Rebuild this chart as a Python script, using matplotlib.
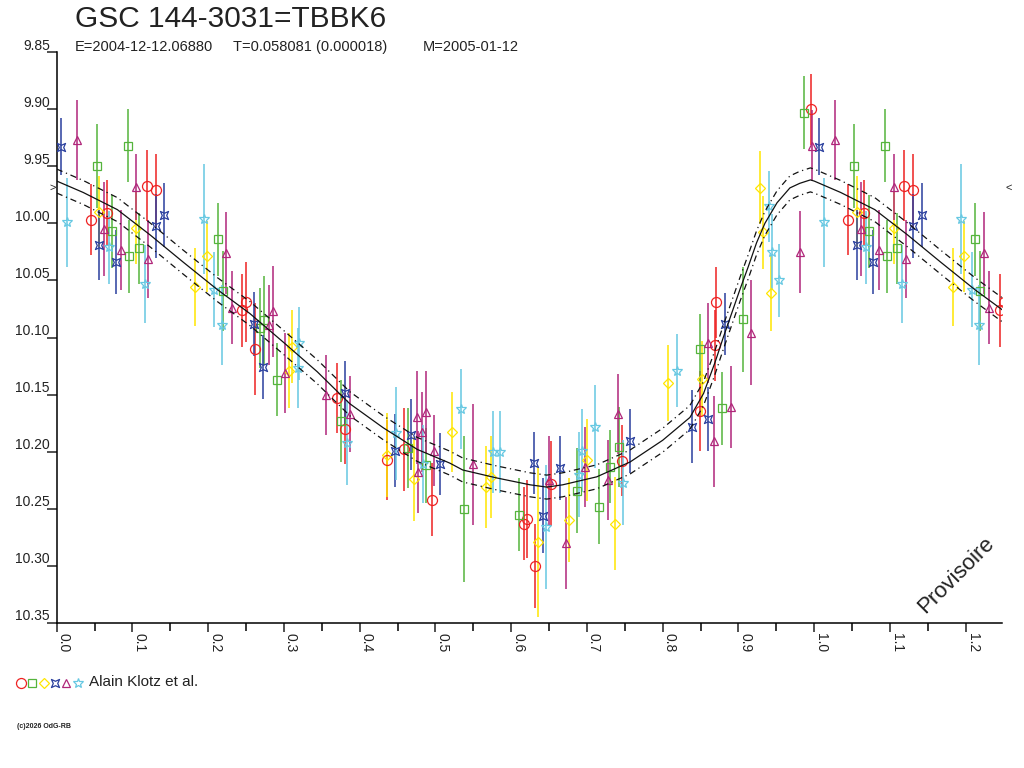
import numpy as np
import matplotlib
matplotlib.use('Agg')
import matplotlib.pyplot as plt
import matplotlib.transforms as mtransforms
from matplotlib.path import Path
from matplotlib.ticker import MultipleLocator, FixedLocator, FormatStrFormatter

plt.rcParams['font.family'] = ['Liberation Sans', 'DejaVu Sans']

title = 'GSC 144-3031=TBBK6'
subtitle_parts = ['E=2004-12-12.06880', 'T=0.058081 (0.000018)', 'M=2005-01-12']
observer = 'Alain Klotz et al.'
credit = '(c)2026 OdG-RB'
stamp = 'Provisoire'

y_ticks = [9.85, 9.90, 9.95, 10.00, 10.05, 10.10, 10.15, 10.20, 10.25, 10.30, 10.35]
x_ticks = [0.0, 0.1, 0.2, 0.3, 0.4, 0.5, 0.6, 0.7, 0.8, 0.9, 1.0, 1.1, 1.2]
max_level = 9.969  # the > < marks on both sides

# observations: phase, magnitude, error (one cycle, repeated after phase 1)
red_phase = [0.045, 0.066, 0.119, 0.131, 0.250, 0.245, 0.262, 0.370, 0.381, 0.436, 0.458,
             0.496, 0.621, 0.617, 0.632, 0.653, 0.746, 0.849, 0.869, 0.871, 0.996]
red_mag = [9.997, 9.991, 9.967, 9.971, 10.069, 10.076, 10.110, 10.153, 10.180, 10.207, 10.198,
           10.242, 10.259, 10.263, 10.300, 10.228, 10.208, 10.164, 10.107, 10.069, 9.900]
red_err = [0.031, 0.029, 0.031, 0.032, 0.035, 0.032, 0.040, 0.031, 0.031, 0.035, 0.036,
           0.032, 0.034, 0.032, 0.037, 0.037, 0.031, 0.035, 0.031, 0.031, 0.031]

green_phase = [0.053, 0.073, 0.096, 0.094, 0.109, 0.213, 0.219, 0.274, 0.269, 0.291, 0.375, 0.464,
               0.487, 0.538, 0.610, 0.687, 0.716, 0.730, 0.743, 0.849, 0.878, 0.906, 0.987]
green_mag = [9.950, 10.007, 10.029, 9.932, 10.022, 10.014, 10.059, 10.085, 10.092, 10.137, 10.173, 10.197,
             10.212, 10.250, 10.255, 10.234, 10.248, 10.213, 10.196, 10.110, 10.162, 10.084, 9.903]
green_err = [0.037, 0.032, 0.032, 0.032, 0.031, 0.032, 0.035, 0.039, 0.035, 0.032, 0.036, 0.035,
             0.033, 0.064, 0.032, 0.037, 0.033, 0.032, 0.035, 0.031, 0.032, 0.046, 0.032]

yellow_phase = [0.056, 0.105, 0.198, 0.183, 0.311, 0.307, 0.436, 0.472, 0.522, 0.573,
                0.567, 0.635, 0.677, 0.700, 0.737, 0.807, 0.852, 0.929, 0.932, 0.943]
yellow_mag = [9.990, 10.004, 10.029, 10.056, 10.108, 10.129, 10.203, 10.224, 10.183, 10.222,
              10.231, 10.279, 10.260, 10.207, 10.263, 10.140, 10.136, 9.969, 10.008, 10.061]
yellow_err = [0.031, 0.032, 0.031, 0.034, 0.032, 0.033, 0.037, 0.037, 0.035, 0.036,
              0.036, 0.066, 0.037, 0.036, 0.041, 0.033, 0.033, 0.032, 0.032, 0.033]

blue_phase = [0.006, 0.056, 0.078, 0.131, 0.142, 0.261, 0.273, 0.381, 0.447,
              0.468, 0.506, 0.630, 0.664, 0.642, 0.757, 0.839, 0.860, 0.882]
blue_mag = [9.933, 10.019, 10.034, 10.002, 9.993, 10.088, 10.126, 10.149, 10.199,
            10.185, 10.211, 10.210, 10.214, 10.256, 10.191, 10.178, 10.171, 10.088]
blue_err = [0.025, 0.031, 0.028, 0.028, 0.028, 0.028, 0.028, 0.028, 0.032,
            0.031, 0.027, 0.027, 0.028, 0.033, 0.028, 0.032, 0.028, 0.027]

purple_phase = [0.027, 0.062, 0.085, 0.105, 0.121, 0.224, 0.231, 0.286, 0.280, 0.302,
                0.356, 0.387, 0.476, 0.488, 0.482, 0.498, 0.477, 0.549, 0.650, 0.673,
                0.698, 0.728, 0.741, 0.860, 0.868, 0.890, 0.917, 0.981, 0.997]
purple_mag = [9.927, 10.005, 10.023, 9.968, 10.031, 10.026, 10.074, 10.077, 10.089, 10.131,
              10.150, 10.167, 10.170, 10.165, 10.183, 10.199, 10.218, 10.211, 10.225, 10.280,
              10.213, 10.225, 10.167, 10.105, 10.191, 10.161, 10.096, 10.025, 9.932]
purple_err = [0.035, 0.041, 0.035, 0.029, 0.034, 0.036, 0.032, 0.040, 0.035, 0.035,
              0.035, 0.033, 0.041, 0.036, 0.035, 0.031, 0.036, 0.053, 0.039, 0.040,
              0.035, 0.035, 0.035, 0.035, 0.040, 0.036, 0.046, 0.036, 0.031]

cyan_phase = [0.013, 0.069, 0.116, 0.194, 0.208, 0.218, 0.320, 0.318, 0.383, 0.448, 0.484, 0.534,
              0.576, 0.585, 0.646, 0.689, 0.693, 0.711, 0.748, 0.819, 0.941, 0.944, 0.954]
cyan_mag = [9.999, 10.021, 10.053, 9.996, 10.058, 10.089, 10.105, 10.127, 10.192, 10.184, 10.211, 10.163,
            10.200, 10.200, 10.266, 10.220, 10.199, 10.178, 10.227, 10.129, 9.985, 10.025, 10.050]
cyan_err = [0.039, 0.032, 0.034, 0.048, 0.033, 0.035, 0.032, 0.035, 0.037, 0.041, 0.034, 0.035,
            0.036, 0.036, 0.054, 0.037, 0.036, 0.036, 0.037, 0.032, 0.031, 0.033, 0.032]

# fitted light curve
fit_phase = [0.000, 0.035, 0.080, 0.123, 0.167, 0.212, 0.255, 0.299, 0.344, 0.387, 0.431,
             0.476, 0.519, 0.536, 0.581, 0.625, 0.647, 0.668, 0.713, 0.757, 0.800, 0.836,
             0.854, 0.869, 0.880, 0.891, 0.902, 0.913, 0.924, 0.935, 0.951, 0.968, 0.981, 0.995]
fit_mag = [9.963, 9.973, 9.988, 10.010, 10.034, 10.058, 10.079, 10.104, 10.130, 10.158, 10.179,
           10.198, 10.210, 10.216, 10.223, 10.229, 10.231, 10.229, 10.222, 10.209, 10.190, 10.170,
           10.149, 10.122, 10.100, 10.079, 10.058, 10.038, 10.017, 10.000, 9.982, 9.969, 9.965, 9.962]
fit_band = 0.0105

# hollow four pointed marker for the blue series
blue_marker = Path([(1, 1), (0.55, 0), (1, -1), (0, -0.55), (-1, -1), (-0.55, 0),
                    (-1, 1), (0, 0.55), (1, 1)], closed=True)

series = [
    (red_phase, red_mag, red_err, '#ee2222', 'o', 7.2),
    (green_phase, green_mag, green_err, '#55b43c', 's', 5.4),
    (yellow_phase, yellow_mag, yellow_err, '#ffe600', 'D', 5.0),
    (blue_phase, blue_mag, blue_err, '#2a3f9e', blue_marker, 5.8),
    (purple_phase, purple_mag, purple_err, '#b0267a', '^', 6.2),
    (cyan_phase, cyan_mag, cyan_err, '#66c8e2', '*', 7.0),
]

fig = plt.figure(figsize=(10.24, 7.68), dpi=100)
ax = fig.add_axes([56.7 / 1024, 1 - 623 / 768, (1002 - 56.7) / 1024, (623 - 52) / 768])

for ph, mg, er, col, mk, ms in series:
    ph = np.array(ph)
    # the first quarter of the cycle is shown again after phase 1
    x = np.concatenate([ph, ph + 1])
    y = np.concatenate([mg, mg])
    e = np.concatenate([er, er])
    ax.errorbar(x, y, yerr=e, fmt='none', ecolor=col, elinewidth=1.1, capsize=0, zorder=2)
    ax.plot(x, y, ls='none', marker=mk, ms=ms, mfc='none', mec=col, mew=0.9, zorder=3)

fp = np.concatenate([fit_phase, np.array(fit_phase) + 1])
fm = np.concatenate([fit_mag, fit_mag])
dashdot = (0, (5, 3, 1, 3))
ax.plot(fp, fm, color='#111111', lw=0.9, zorder=4)
ax.plot(fp, fm - fit_band, color='#111111', lw=0.9, ls=dashdot, zorder=4)
ax.plot(fp, fm + fit_band, color='#111111', lw=0.9, ls=dashdot, zorder=4)

ax.set_xlim(0, 1.248)
ax.set_ylim(10.35, 9.85)
for s in ['top', 'right']:
    ax.spines[s].set_visible(False)
ax.spines['left'].set_linewidth(1.1)
ax.spines['bottom'].set_linewidth(1.1)

ax.yaxis.set_major_locator(FixedLocator(y_ticks))
ax.yaxis.set_major_formatter(FormatStrFormatter('%.2f'))
ax.xaxis.set_major_locator(FixedLocator(x_ticks))
ax.xaxis.set_major_formatter(FormatStrFormatter('%.1f'))
ax.xaxis.set_minor_locator(MultipleLocator(0.05))
ax.tick_params(axis='y', direction='out', length=7.2, width=1.1, pad=0, labelsize=10, colors='#222222')
ax.tick_params(axis='x', which='major', direction='out', length=6.5, width=1.1, pad=0.8, labelsize=10,
               colors='#222222')
ax.tick_params(axis='x', which='minor', direction='out', length=5.8, width=1.1)
plt.setp(ax.get_xticklabels(), rotation=-90, ha='left', va='top')

offset = mtransforms.ScaledTranslation(0.033, 0.08, fig.dpi_scale_trans)
for label in ax.get_yticklabels():
    label.set_transform(label.get_transform() + offset)

side = mtransforms.blended_transform_factory(ax.transAxes, ax.transData)
ax.text(-0.001, max_level, '>', transform=side, ha='right', va='center', fontsize=8, color='#222222')
ax.text(1.004, max_level, '<', transform=side, ha='left', va='center', fontsize=8, color='#222222')

fig.text(75 / 1024, 1 - 19 / 768, title, fontsize=21.5, ha='left', va='center', color='#222222')
for part, px in zip(subtitle_parts, [75, 233, 423]):
    fig.text(px / 1024, 1 - 47 / 768, part, fontsize=10.5, ha='left', va='center', color='#222222')
fig.text(956 / 1024, 1 - 575 / 768, stamp, fontsize=16, rotation=45, ha='center', va='center',
         color='#222222')

# legend line: one symbol per series, then the observer
for i, (ph, mg, er, col, mk, ms) in enumerate(series):
    fig.add_artist(plt.Line2D([(20.7 + 11.4 * i) / 1024], [1 - 682.5 / 768], ls='none', marker=mk,
                              ms=ms, mfc='none', mec=col, mew=0.9, transform=fig.transFigure))
fig.text(89 / 1024, 1 - 682.5 / 768, observer, fontsize=11, ha='left', va='center', color='#222222')
fig.text(17 / 1024, 1 - 726 / 768, credit, fontsize=5, fontweight='bold', ha='left', va='center',
         color='#222222')

fig.savefig('out.png', dpi=100)
